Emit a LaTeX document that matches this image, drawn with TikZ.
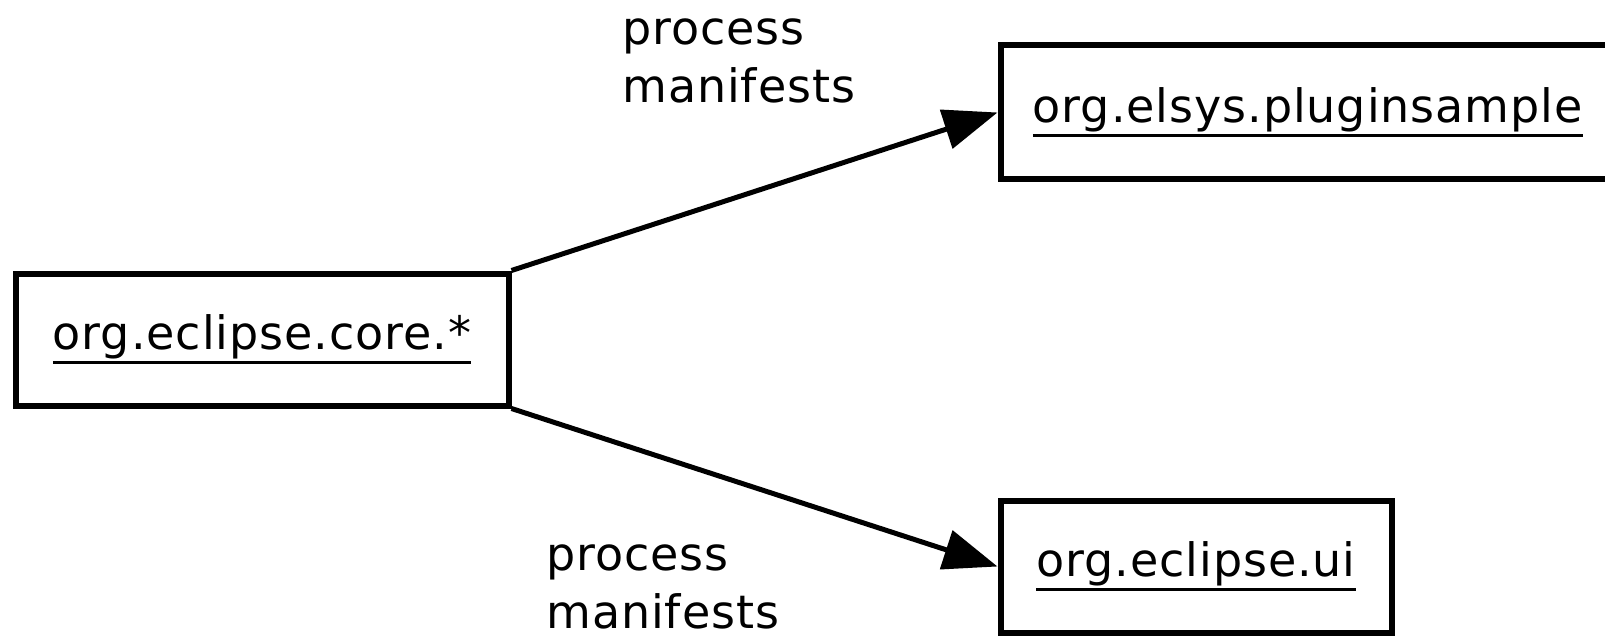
\documentclass[tikz,border=0pt]{standalone}
\usepackage{fontspec}
\setmainfont{DejaVu Sans}[LetterSpace=2]
\usepackage{tikz}
\usetikzlibrary{arrows.meta,positioning}

\newcommand\pkgname[1]{\leavevmode\vtop{\hbox{#1}\kern1pt\hrule height 1.5pt}}

\begin{document}
\begin{tikzpicture}[x=0.5pt,y=-0.5pt,
 every node/.style={font=\fontsize{23}{29}\selectfont},
 bundle/.style={draw,line width=3pt,minimum height=66pt,inner sep=0pt},
 flow/.style={line width=2.5pt,-{Triangle[length=27pt,width=20pt]}},
 lbl/.style={align=left,inner sep=0pt}]

  \useasboundingbox (0,0) rectangle (1605,636);

  \node[bundle,minimum width=246.5pt] (core) at (262,339.5) {\pkgname{org.eclipse.core.*}};
  \node[bundle,minimum width=307.25pt,minimum height=67pt] (elsys) at (1307.75,112.5) {\pkgname{org.elsys.pluginsample}};
  \node[bundle,minimum width=195.5pt] (ui) at (1196,566.5) {\pkgname{org.eclipse.ui}};

  \draw[flow] (core.north east) -- (elsys.west);
  \draw[flow] (core.south east) -- (ui.west);

  \node[lbl,anchor=base west] (lblup) at (622,103) {process\\manifests};
  \node[lbl,anchor=base west] (lbldown) at (546,628) {process\\manifests};

\end{tikzpicture}
\end{document}
